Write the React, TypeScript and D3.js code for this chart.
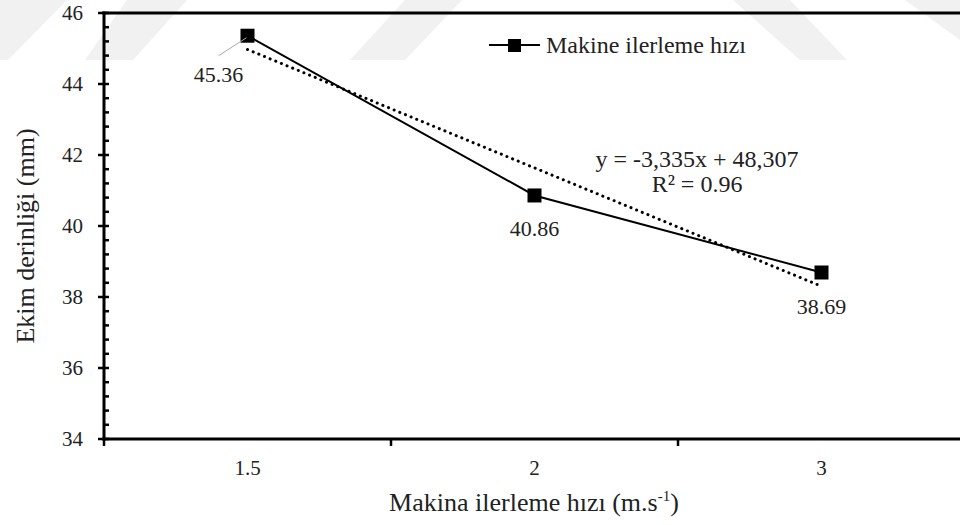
import React from "react";
import * as d3 from "d3";

// Seeding depth vs. machine forward speed
const categories: string[] = ["1.5", "2", "3"];
const depthValues: number[] = [45.36, 40.86, 38.69];
const yTickValues: number[] = [34, 36, 38, 40, 42, 44, 46];
const trendSlope = -3.335;
const trendIntercept = 48.307;
const trendR2 = "0.96";
const seriesName = "Makine ilerleme hızı";
const yTitle = "Ekim derinliği (mm)";

const W = 960;
const H = 525;
const plotLeft = 104;
const plotTop = 13;
const plotBottom = 439;
const bandWidth = 287;
const FONT = "'Liberation Serif', 'Times New Roman', Times, serif";
const txt = { fontFamily: FONT };

// faint diagonal backdrop bands near the top edge
const bands: [number, number][][] = [
  [[0, 0], [67, 0], [8, 60], [0, 60]],
  [[127, 0], [187, 0], [133, 60], [85, 60]],
  [[405, 0], [462, 0], [405, 60], [350, 60]],
  [[733, 0], [790, 0], [847, 60], [800, 60]],
  [[905, 0], [960, 0], [960, 40]],
];

export default function App() {
  const x = d3
    .scaleBand<string>()
    .domain(categories)
    .range([plotLeft, plotLeft + bandWidth * categories.length])
    .paddingInner(0)
    .paddingOuter(0);
  const cx = (c: string) => (x(c) as number) + x.bandwidth() / 2;
  const y = d3.scaleLinear().domain([34, 46]).range([plotBottom, plotTop]);

  const pts: [number, number][] = categories.map((c, i) => [cx(c), y(depthValues[i])]);
  const line = d3.line<[number, number]>();

  const trendPts: [number, number][] = categories.map((c, i) => [
    cx(c),
    y(trendSlope * (i + 1) + trendIntercept),
  ]);

  const minorTicks: number[] = [];
  for (let v = 34; v < 46 - 1e-9; v += 0.4) {
    if (Math.abs(v / 2 - Math.round(v / 2)) > 1e-6) minorTicks.push(v);
  }

  const boundaries = d3.range(categories.length + 1).map((i) => plotLeft + i * x.bandwidth());

  const labelOffsets = [
    { dx: -29, dy: 46 },
    { dx: 0, dy: 41 },
    { dx: 0, dy: 41 },
  ];

  return (
    <svg
      width={W}
      height={H}
      viewBox={`0 0 ${W} ${H}`}
      style={{ position: "absolute", left: 0, top: 0, background: "#fff" }}
    >
      <rect x={0} y={0} width={W} height={H} fill="#fff" />
      {bands.map((b, i) => (
        <polygon key={i} points={b.map((p) => p.join(",")).join(" ")} fill="#f1f1f1" />
      ))}

      {/* top frame */}
      <line x1={plotLeft - 1.5} x2={W} y1={plotTop} y2={plotTop} stroke="#000" strokeWidth={3} />

      {/* y axis */}
      <line x1={plotLeft} x2={plotLeft} y1={plotTop - 1.5} y2={plotBottom + 1.5} stroke="#000" strokeWidth={3} />
      {minorTicks.map((v) => (
        <line key={v} x1={plotLeft} x2={plotLeft + 5} y1={y(v)} y2={y(v)} stroke="#000" strokeWidth={2.5} />
      ))}
      {yTickValues.map((v) => (
        <g key={v}>
          <line x1={plotLeft - 6} x2={plotLeft + 5} y1={y(v)} y2={y(v)} stroke="#000" strokeWidth={2.5} />
          <text x={83} y={y(v)} dy="0.35em" textAnchor="end" fontSize={21} fill="#222" style={txt}>
            {v}
          </text>
        </g>
      ))}

      {/* x axis */}
      <line x1={plotLeft - 1.5} x2={W} y1={plotBottom} y2={plotBottom} stroke="#000" strokeWidth={3} />
      {boundaries.map((bx, i) => (
        <line key={i} x1={bx} x2={bx} y1={plotBottom} y2={plotBottom + 7} stroke="#000" strokeWidth={2.5} />
      ))}
      {categories.map((c) => (
        <text key={c} x={cx(c)} y={475} textAnchor="middle" fontSize={21} fill="#222" style={txt}>
          {c}
        </text>
      ))}

      {/* axis titles */}
      <text x={534} y={511} textAnchor="middle" fontSize={26} fill="#222" style={txt}>
        Makina ilerleme hızı (m.s
        <tspan dy={-10} fontSize={15}>-1</tspan>
        <tspan dy={10}>)</tspan>
      </text>
      <text
        transform={`translate(34, 236) rotate(-90)`}
        textAnchor="middle"
        fontSize={26}
        fill="#222"
        style={txt}
      >
        {yTitle}
      </text>

      {/* linear trend */}
      <path
        d={line(trendPts) as string}
        fill="none"
        stroke="#000"
        strokeWidth={3}
        strokeDasharray="0.1 6"
        strokeLinecap="round"
      />

      {/* series */}
      <path d={line(pts) as string} fill="none" stroke="#000" strokeWidth={2} />
      {pts.map(([px, py], i) => (
        <rect key={i} x={px - 7} y={py - 7} width={14} height={14} fill="#000" />
      ))}

      {/* value labels */}
      <line
        x1={pts[0][0] + labelOffsets[0].dx}
        y1={pts[0][1] + 20}
        x2={pts[0][0] - 1}
        y2={pts[0][1] + 2}
        stroke="#aaa"
        strokeWidth={1}
      />
      {pts.map(([px, py], i) => (
        <text
          key={i}
          x={px + labelOffsets[i].dx}
          y={py + labelOffsets[i].dy}
          textAnchor="middle"
          fontSize={22}
          fill="#222"
          style={txt}
        >
          {depthValues[i].toFixed(2)}
        </text>
      ))}

      {/* trend equation */}
      <text x={697} y={167} textAnchor="middle" fontSize={24} fill="#222" style={txt}>
        {`y = -3,335x + 48,307`}
      </text>
      <text x={697} y={192} textAnchor="middle" fontSize={24} fill="#222" style={txt}>
        R² = {trendR2}
      </text>

      {/* legend */}
      <line x1={489} x2={540} y1={45} y2={45} stroke="#000" strokeWidth={2} />
      <rect x={508} y={39} width={13} height={13} fill="#000" />
      <text x={546} y={53} fontSize={24} fill="#222" style={txt}>
        {seriesName}
      </text>
    </svg>
  );
}
